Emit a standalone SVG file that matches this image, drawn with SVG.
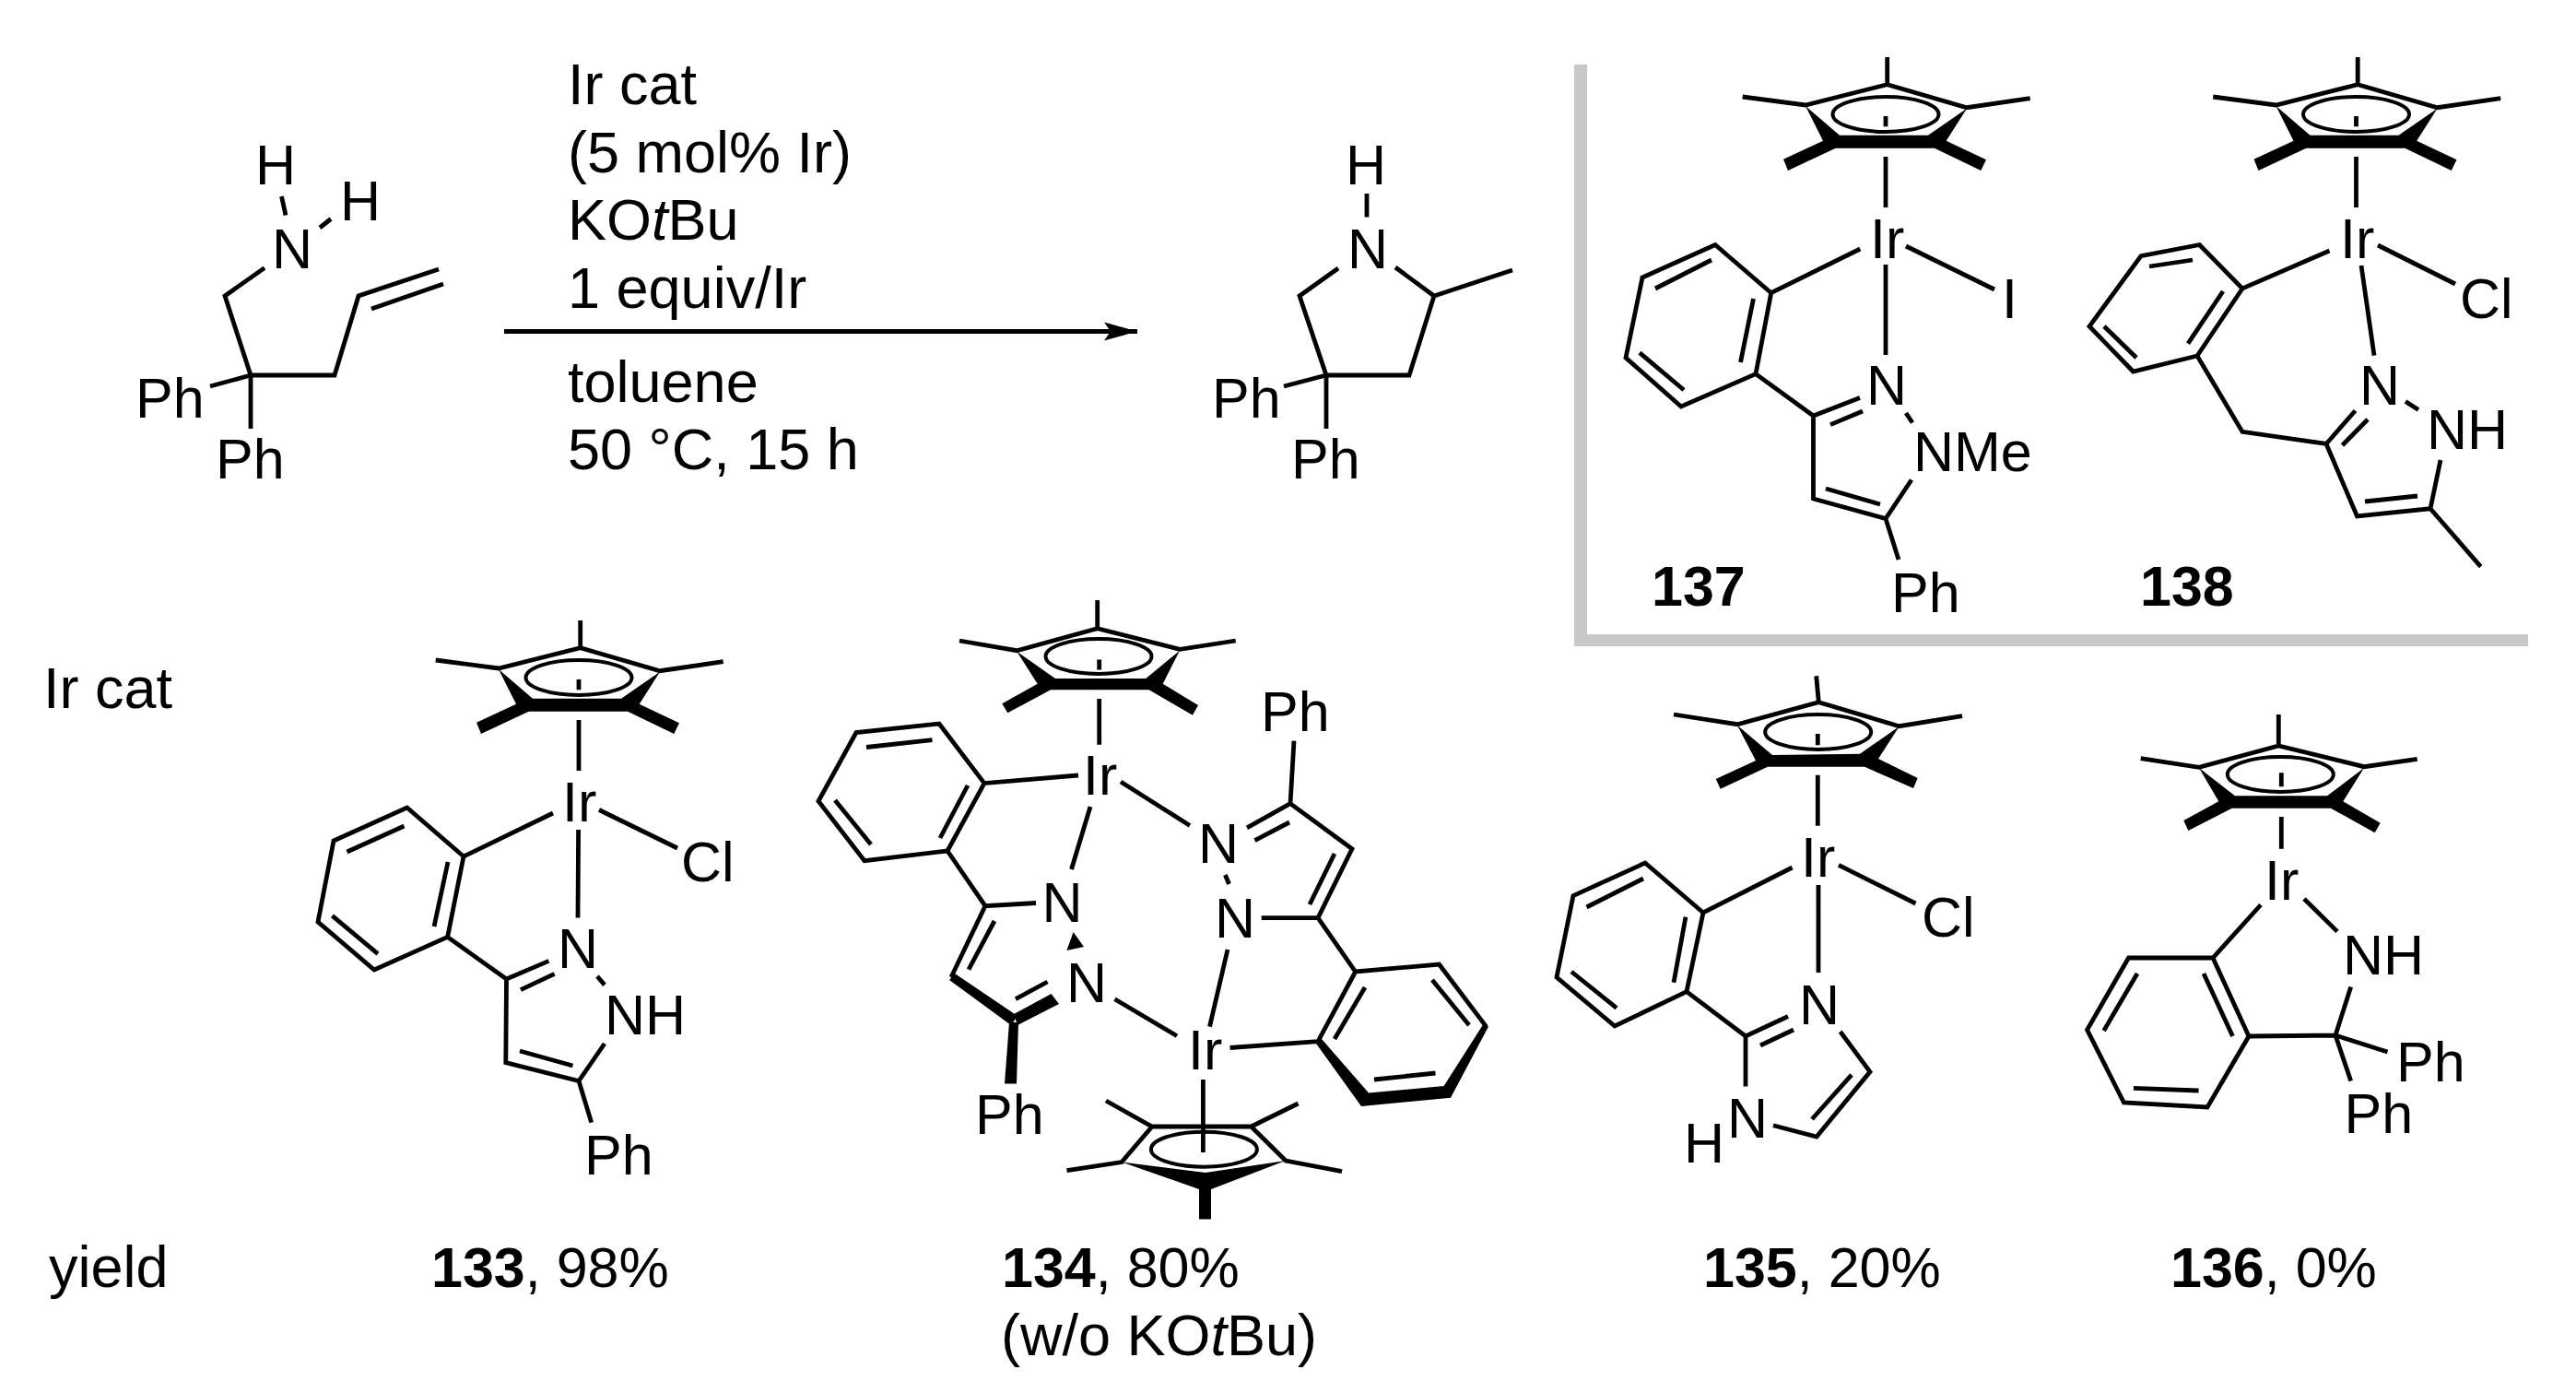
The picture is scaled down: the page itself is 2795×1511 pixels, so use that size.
<svg xmlns="http://www.w3.org/2000/svg" width="2795" height="1511" viewBox="0 0 2795 1511">
<style>
text{font-family:"Liberation Sans",Arial,sans-serif;font-size:61px;fill:#000}
.c{font-size:63px}
.b{font-weight:bold}
.i{font-style:italic}
.bond{fill:none;stroke:#000;stroke-width:4.800;stroke-linejoin:miter;stroke-linecap:butt}
.thin{fill:none;stroke:#000;stroke-width:4}
.w{fill:#000;stroke:none}
.box{fill:#c8c8c8;stroke:none}
</style>
<defs>
<marker id="ah" markerUnits="userSpaceOnUse" markerWidth="40" markerHeight="24" refX="36" refY="10" orient="auto" viewBox="0 0 40 24" overflow="visible">
<path d="M0 0L36 10L0 20L7 10Z" fill="#000"/>
</marker>
<g id="cp-full">
<path class="bond" d="M2047.700 62V92M1890.700 105L1959 114L2047.700 91.700L2134 116.700L2202.700 106.700"/>
<path class="w" d="M1959 115L1978 152.700L1935 172.700L1940 185L1991.700 160.700H2099L2149.300 185L2155 173.300L2111.700 152.700L2134 117.700L2092 146.700H1996Z"/>
<ellipse class="thin" cx="2046" cy="124" rx="57.500" ry="19"/>
<path class="bond" d="M2046 126V137.300M2046 170V225"/>
</g>
</defs>
<g id="box137-138">
<rect class="box" x="1708" y="70" width="14" height="631"/>
<rect class="box" x="1708" y="688" width="1035" height="13"/>
</g>
<g id="conditions">
<text class="c" x="616" y="113">Ir cat</text>
<text class="c" x="616" y="187">(5 mol% Ir)</text>
<text class="c" x="616" y="260">KO<tspan class="i">t</tspan>Bu</text>
<text class="c" x="616" y="334">1 equiv/Ir</text>
<text class="c" x="616" y="436">toluene</text>
<text class="c" x="616" y="509">50 °C, 15 h</text>
</g>
<g id="connectors">
<path id="reaction-arrow" class="bond" d="M547 359.500H1234" marker-end="url(#ah)"/>
</g>
<g id="substrate">
<path class="bond" d="M305.500 213L310 233.500M359 237.500L347 247M287 290.600L244 321L272 407H363L389 321L476 292M403 335L481 308M272 407L228 419M272 407V465"/>
<text x="277" y="200">H</text><text x="369" y="239">H</text><text x="295" y="291">N</text>
<text x="147" y="453">Ph</text><text x="234" y="519">Ph</text>
</g>
<g id="product">
<path class="bond" d="M1483 210V235.500M1452 291L1410 321L1439 407H1529L1556 321L1514 290M1556 321L1641 293M1439 407L1393 419M1439 407V465"/>
<text x="1460" y="200">H</text><text x="1462" y="291">N</text>
<text x="1315" y="453">Ph</text><text x="1401" y="519">Ph</text>
</g>
<g id="compound-137">
<use href="#cp-full"/>
<path class="bond" d="M2018.300 270L1921.700 317.700L1861 265.500L1782 301L1764 388L1824 441L1905 405.600L1921.700 317.700M1857 282L1796 313M1902.500 324L1888.500 393M1779 382.600L1827 423M1905 405.600L1967.500 451L2018 431.600M1986 460.600L2021 446M2068 267L2164 314M2046 287V385M2068 448L2075 458.500M1967.500 451V541L2046 562.600L2074 520.500M1981 530L2040 547M2046 562.600L2060 607"/>
<text x="2029" y="280">Ir</text><text x="2172" y="344.500">I</text><text x="2025" y="439">N</text>
<text x="2076" y="511">NMe</text><text x="2052" y="663.500">Ph</text>
<text class="b" x="1792" y="656.700">137</text>
</g>
<g id="compound-138">
<use href="#cp-full" x="510.500"/>
<path class="bond" d="M2527.500 272L2433 313L2386.500 265.500L2323 277.600L2267 354L2314.500 403L2384 386L2433 313M2379 282L2332 289M2412 316L2374 372.600M2283 354L2318 388M2384 386L2433 468.400L2524 481.500L2555.500 445.500M2541.500 483L2569 455M2580 266L2664 308M2562 288L2576 385.600M2610 435.500L2624 444.600M2524 481.500L2557.500 560L2637 551.700L2648 499M2566 544L2623 538M2637 551.700L2691.600 614.600"/>
<text x="2539" y="280">Ir</text><text x="2669" y="345">Cl</text><text x="2560" y="439">N</text>
<text x="2633" y="486.700">NH</text>
<text class="b" x="2322" y="656.700">138</text>
</g>
<g id="label-ir-cat"><text class="c" x="47" y="768">Ir cat</text></g>
<g id="label-yield"><text class="c" x="53" y="1396">yield</text></g>
<g id="compound-133">
<use href="#cp-full" transform="translate(-1418 611)"/>
<path class="bond" d="M600 882L503 929L441.600 876L362 912L345 1000L406 1052L485.600 1016.400L503 929M438.500 896L376.500 924M486 935L471 1005M360.500 993.400L410 1034.600M485.600 1016.400L549.500 1062L595.400 1042.400M565 1073.600L601.600 1056.300M650 878.500L735 920M627.600 900L627 995.600M648 1059L656 1068.400M549.500 1062L548.800 1152.600L628 1172.500L656 1132M564 1140L621.500 1156M628 1172.500L641.700 1217.600"/>
<text x="610" y="890.600">Ir</text><text x="739" y="955.700">Cl</text><text x="605" y="1050">N</text>
<text x="656" y="1122">NH</text><text x="634" y="1274.400">Ph</text>
<text x="468" y="1396"><tspan class="b">133</tspan>, 98%</text>
</g>
<g id="compound-134">
<path class="bond" d="M1190.700 651V681.700M1041 695L1103.300 705.700L1190.700 681.700L1280 704.300L1340.700 695"/>
<path class="w" d="M1103.300 706.700L1125.700 741.700L1087.300 763.300L1093.300 773.300L1140 748.300H1246.700L1294 775.700L1300 765L1261.700 741.700L1280 705.700L1243.300 736H1145Z"/>
<ellipse class="thin" cx="1192" cy="712" rx="57.500" ry="19"/>
<path class="bond" d="M1192.700 715.500V726.500M1192.700 758V807.700"/>
<path class="bond" d="M1170 841L1068 849.600L1019 785L929 794.500L888 869L938 933.600L1028 923L1068 849.600M1011.500 802.700L940 810.500M1050 852L1020 909M906 868L945 916M1028 923L1069 982.700L1124 979.500M1183 875L1162.500 943M1069 982.700L1032 1060M1079 999L1051 1051.600M1102 1083.700L1136.500 1065M1209.500 1083.700L1277 1123.700M1216 848L1291 895.500M1353 897.800L1400 871.600M1361.500 911.600L1399 892M1400 871.600L1404 803.700M1400 871.600L1467 920.700L1430 995.600M1448 926L1421 981M1368.700 995.600H1430M1329.400 949L1333.500 959M1332 1030L1312.500 1113.600M1430 995.600L1470.700 1054L1561.500 1046L1612.600 1113.600M1470.700 1054L1430 1129.600M1481 1071L1448 1127M1554 1063L1594 1112M1557.500 1164L1491 1171M1334.500 1136.500L1430 1129.600"/>
<path class="w" d="M1036 1056L1030 1063L1097 1112L1104 1102Z"/>
<path class="w" d="M1100 1100L1140.600 1078L1149 1089L1104 1112Z"/>
<path class="w" d="M1095 1109L1105 1109L1103 1175.600L1090 1175.600Z"/>
<path class="w" d="M1164.600 1011L1157.400 1031L1176 1027Z"/>
<path class="w" d="M1427 1130.600L1477 1200L1574 1190.700L1615 1113.600L1610 1110L1566.600 1178L1485 1185.600L1434 1127Z"/>
<path class="bond" d="M1305.400 1171V1250M1200 1194L1250 1222H1357.500L1408.500 1197M1157.500 1269.700L1217 1260.500L1250 1222M1456 1270.600L1395 1259L1357.500 1222"/>
<ellipse class="thin" cx="1306.400" cy="1246.700" rx="57.500" ry="19"/>
<path class="w" d="M1217 1260.500L1308 1272L1395 1259L1314 1290V1322.500H1301V1290Z"/>
<text x="1175" y="862">Ir</text><text x="1289" y="1160.400">Ir</text>
<text x="1130.500" y="999.700">N</text><text x="1157" y="1087.400">N</text><text x="1300" y="936">N</text><text x="1318" y="1017">N</text>
<text x="1058" y="1229.700">Ph</text><text x="1368" y="793">Ph</text>
<text x="1087" y="1396"><tspan class="b">134</tspan>, 80%</text>
<text class="c" x="1086" y="1470">(w/o KO<tspan class="i">t</tspan>Bu)</text>
</g>
<g id="compound-135">
<path class="bond" d="M1970.700 733.300L1973.300 761.700M1816 775L1885 785.700L1973.300 761.700L2060.700 787.700L2129 776.700"/>
<ellipse class="thin" cx="1972.700" cy="794" rx="57.500" ry="19"/>
<path class="bond" d="M1972.300 796V808.300M1972.300 840.700V895.700"/>
<path class="w" d="M1885 786.700L1905 825L1861.700 845L1866.700 855.700L1918 831.700H2023L2076 855L2080.700 844L2038 823L2060.700 788L2018 817.700L1923 819Z"/>
<path class="bond" d="M1944.600 941L1848 990L1785 936L1707 971.600L1689 1060L1752 1113L1830 1075.600L1848 990M1783 953L1721.500 984M1829 994.600L1816 1065.800M1705 1054L1754 1093.400M1830 1075.600L1894 1124L1940 1102.500M1910 1134L1946 1117M1894 1124V1178.500M1995 938.400L2078.500 980M1973 960V1055M1996.700 1119L2029 1162.600L1971 1233L1924 1220.800M2009 1165.800L1966 1214"/>
<text x="1954" y="951">Ir</text><text x="2085" y="1015.500">Cl</text><text x="1952" y="1111">N</text>
<text x="1874" y="1233.800">N</text><text x="1827" y="1260.700">H</text>
<text x="1848" y="1396"><tspan class="b">135</tspan>, 20%</text>
</g>
<g id="compound-136">
<path class="bond" d="M2472.300 775V809M2322.700 822.700L2386 832.300L2472.300 809L2565 831.700L2622.700 823.300"/>
<ellipse class="thin" cx="2474.300" cy="840" rx="57.500" ry="19"/>
<path class="bond" d="M2475.300 838.300V853.300M2475.300 886V920.700"/>
<path class="w" d="M2386 833L2407.300 869.300L2369.300 890L2374.300 901L2421.700 876.700H2529L2576.700 903.300L2582.700 892.700L2542.300 869.300L2565 833L2525 863.300H2425Z"/>
<path class="bond" d="M2453 981.500L2401 1039H2309.500L2264.600 1117L2304.400 1196L2395 1201L2440 1124L2401 1039M2319 1056L2282.700 1118M2391 1056L2422.500 1124M2315 1180.400L2385.600 1183M2500 975L2536 1010.400M2550.700 1070.500L2534 1123L2440 1124M2534 1123L2590.500 1141M2534 1123L2550.700 1172.500"/>
<text x="2457" y="975.600">Ir</text><text x="2542" y="1057">NH</text>
<text x="2600" y="1173.300">Ph</text><text x="2543.500" y="1228.700">Ph</text>
<text x="2355" y="1396"><tspan class="b">136</tspan>, 0%</text>
</g>
</svg>
